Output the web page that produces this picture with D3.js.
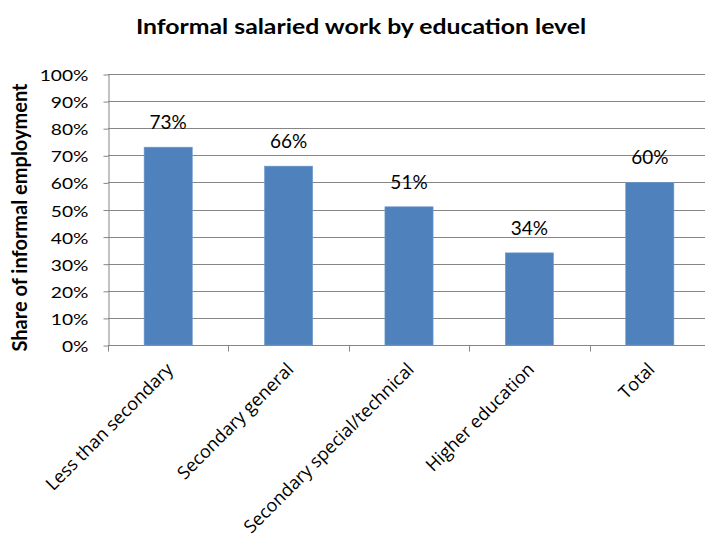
<!DOCTYPE html>
<html>
<head>
<meta charset="utf-8">
<script src="https://cdn.jsdelivr.net/npm/d3@7/dist/d3.min.js"></script>
<style>
  html, body { margin: 0; padding: 0; background: #fff; }
  svg { display: block; font-family: Lato, "Open Sans", sans-serif; }
</style>
</head>
<body>
<svg id="chart" width="705" height="540"></svg>
<script>
// Share of informal employment by education level
const categories = ["Less than secondary", "Secondary general", "Secondary special/technical", "Higher education", "Total"];
const shares = [0.73, 0.66, 0.51, 0.34, 0.60];
const yTicks = [0, 0.1, 0.2, 0.3, 0.4, 0.5, 0.6, 0.7, 0.8, 0.9, 1.0];

const svg = d3.select("#chart");
const margin = { left: 108, right: -5, top: 74, bottom: 195 };
const W = 705, H = 540;

const x = d3.scaleBand()
  .domain(categories)
  .range([margin.left, W - margin.right])
  .paddingInner(0.6)
  .paddingOuter(0.3);

const y = d3.scaleLinear().domain([0, 1]).range([H - margin.bottom, margin.top]);

const gridColor = "#868686";
const pct = d3.format(".0%");

// horizontal gridlines
svg.append("g")
  .selectAll("line")
  .data(yTicks)
  .join("line")
  .attr("x1", margin.left)
  .attr("x2", W - margin.right)
  .attr("y1", d => Math.round(y(d)) + 0.5)
  .attr("y2", d => Math.round(y(d)) + 0.5)
  .attr("stroke", gridColor)
  .attr("stroke-width", 1);

// y axis (labels are set in a slightly widened face)
const yAxis = svg.append("g")
  .attr("transform", `translate(${margin.left + 0.5},0)`)
  .call(d3.axisLeft(y).tickValues(yTicks).tickFormat(pct).tickSize(5).tickSizeOuter(0));
yAxis.select(".domain").attr("stroke", gridColor);
yAxis.selectAll(".tick line").attr("stroke", gridColor).attr("transform", "translate(0,0.5)");
yAxis.selectAll(".tick text")
  .attr("x", null)
  .attr("dy", "0.36em")
  .attr("transform", "translate(-20,1) scale(1.24,1)")
  .attr("font-size", 15.5)
  .attr("fill", "#000")
  .attr("font-family", "Lato, sans-serif");

// x axis baseline with boundary ticks
const x0 = Math.round(y(0)) + 0.5;
svg.append("line")
  .attr("x1", margin.left).attr("x2", W - margin.right)
  .attr("y1", x0).attr("y2", x0)
  .attr("stroke", gridColor);
const bounds = categories.map((c, i) => margin.left + i * (W - margin.right - margin.left) / categories.length);
svg.append("g")
  .selectAll("line")
  .data(bounds)
  .join("line")
  .attr("x1", d => Math.round(d) + 0.5)
  .attr("x2", d => Math.round(d) + 0.5)
  .attr("y1", x0)
  .attr("y2", x0 + 6)
  .attr("stroke", gridColor);

// bars
svg.append("g")
  .selectAll("rect")
  .data(categories)
  .join("rect")
  .attr("x", d => x(d))
  .attr("width", x.bandwidth())
  .attr("y", (d, i) => y(shares[i]))
  .attr("height", (d, i) => y(0) - y(shares[i]))
  .attr("fill", "#4F81BD")
  .attr("stroke", "#6f9ad0")
  .attr("stroke-width", 0.6);

// value labels
svg.append("g")
  .selectAll("text")
  .data(categories)
  .join("text")
  .attr("x", d => x(d) + x.bandwidth() / 2)
  .attr("y", (d, i) => y(shares[i]) - 18)
  .attr("text-anchor", "middle")
  .attr("font-size", 19)
  .attr("fill", "#000")
  .text((d, i) => pct(shares[i]));

// category labels at 45 degrees
svg.append("g")
  .selectAll("text")
  .data(categories)
  .join("text")
  .attr("transform", d => `translate(${x(d) + x.bandwidth() / 2 + 6},${x0 + 25}) rotate(-45)`)
  .attr("text-anchor", "end")
  .attr("font-family", "'Open Sans', sans-serif")
  .attr("font-size", 18)
  .attr("fill", "#000")
  .text(d => d);

// title
svg.append("text")
  .attr("transform", "translate(361,34) scale(1.18,1)")
  .attr("text-anchor", "middle")
  .attr("font-size", 21)
  .attr("font-weight", "bold")
  .text("Informal salaried work by education level");

// y axis title
svg.append("text")
  .attr("transform", `translate(27,${(y(0) + y(1)) / 2 + 8}) rotate(-90)`)
  .attr("text-anchor", "middle")
  .attr("font-size", 20)
  .attr("font-weight", "bold")
  .text("Share of informal employment");
</script>
</body>
</html>
